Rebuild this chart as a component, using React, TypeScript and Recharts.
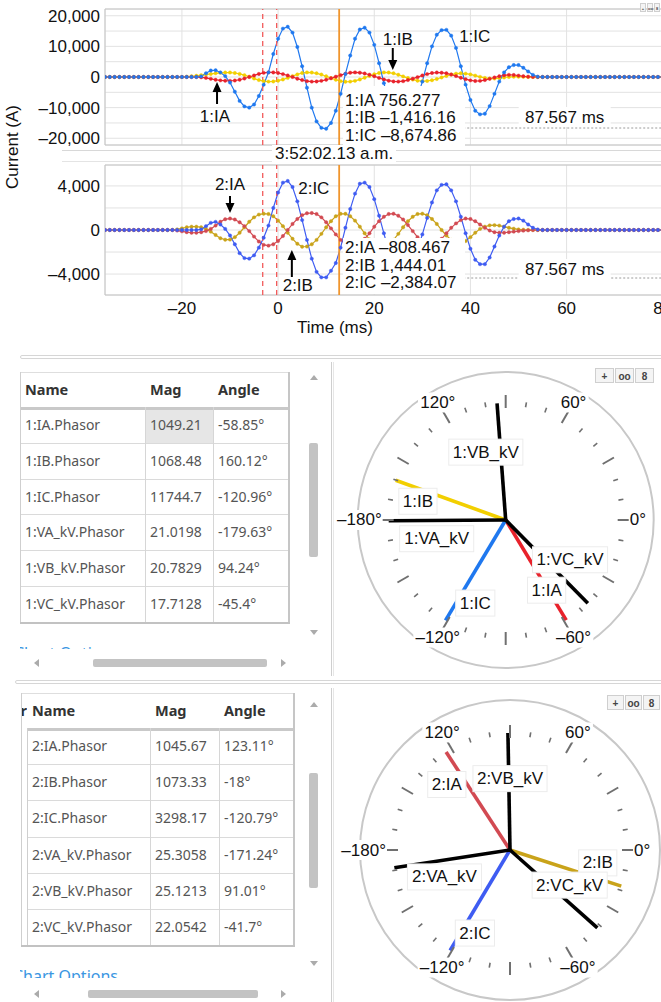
import React from "react";
import {
  LineChart,
  Line,
  XAxis,
  YAxis,
  CartesianGrid,
  ReferenceLine,
  ReferenceDot,
  ReferenceArea,
  ComposedChart,
  Scatter,
} from "recharts";

const FONT = "'Liberation Sans', Arial, Helvetica, sans-serif";
const UI = "'Noto Sans', 'Open Sans', sans-serif";

// ---- waveform samples (ms) ----
const timeMs = [
  -36, -35, -34, -33, -32, -31, -30, -29, -28, -27, -26, -25, -24, -23, -22, -21, -20, -19, -18, -17,
  -16, -15, -14, -13, -12, -11, -10, -9, -8, -7, -6, -5, -4, -3, -2, -1, 0, 1, 2, 3, 4, 5, 6, 7, 8, 9,
  10, 11, 12, 13, 14, 15, 16, 17, 18, 19, 20, 21, 22, 23, 24, 25, 26, 27, 28, 29, 30, 31, 32, 33, 34,
  35, 36, 37, 38, 39, 40, 41, 42, 43, 44, 45, 46, 47, 48, 49, 50, 51, 52, 53, 54, 55, 56, 57, 58, 59,
  60, 61, 62, 63, 64, 65, 66, 67, 68, 69, 70, 71, 72, 73, 74, 75, 76, 77, 78, 79, 80, 81, 82, 83, 84,
];

// relay 1 currents (A)
const ia1 = [
  0, 0, 0, 0, 0, 0, 0, 0, 0, 0, 0, 0, 0, 0, 0, 0, 0, 0, 0, 0,
  -100, -300, -600, -900, -1100, -1200, -1250, -1150, -900, -500, 0, 500, 1000, 1350, 1500, 1480,
  1300, 950, 500, 0, -550, -1000, -1350, -1500, -1450, -1250, -900, -400, 100, 600, 1050, 1400,
  1500, 1400, 1150, 750, 250, -300, -800, -1200, -1450, -1500, -1350, -1000, -550, -50, 500, 950,
  1300, 1450, 1400, 1200, 800, 300, -250, -700, -1100, -1300, -1250, -1000, -600, -150, 250, 550,
  700, 650, 450, 250, 100, 30,
  0, 0, 0, 0, 0, 0, 0, 0, 0, 0, 0, 0, 0, 0, 0, 0, 0, 0, 0, 0, 0, 0, 0, 0, 0, 0, 0, 0, 0, 0, 0,
];
const ib1 = [
  0, 0, 0, 0, 0, 0, 0, 0, 0, 0, 0, 0, 0, 0, 0, 0, 0,
  100, 250, 400, 600, 800, 1000, 1200, 1350, 1450, 1450, 1300, 1000, 600, 100, -500, -1000, -1350,
  -1500, -1450, -1200, -800, -300, 300, 850, 1300, 1500, 1450, 1200, 800, 250, -350, -900, -1350,
  -1550, -1500, -1250, -800, -250, 350, 900, 1300, 1500, 1450, 1200, 750, 200, -350, -850, -1200,
  -1350, -1300, -1050, -650, -150, 350, 800, 1100, 1200, 1100, 850, 450, 50, -300, -500, -500, -350,
  -150, 0, 100, 100, 50, 0,
  0, 0, 0, 0, 0, 0, 0, 0, 0, 0, 0, 0, 0, 0, 0, 0, 0, 0, 0, 0, 0, 0, 0, 0, 0, 0, 0, 0, 0, 0, 0, 0,
];
const ic1 = [
  0, 0, 0, 0, 0, 0, 0, 0, 0, 0, 0, 0, 0, 0, 0, 0, 0, 0, 0, 0,
  200, 1200, 2100, 2200, 1500, 300, -1800, -4800, -7800, -9600, -10000, -9000, -6200, -2500, 1500,
  7500, 12500, 15800, 16400, 14500, 9800, 3500, -3500, -10000, -14500, -16600, -16900, -15000,
  -11000, -5500, 1000, 7000, 12500, 15500, 16100, 14500, 10500, 4500, -2000, -8000, -12500, -15000,
  -15500, -14500, -11500, -6500, -1500, 4500, 10000, 13800, 15300, 15400, 13500, 9500, 3500, -2500,
  -7500, -11000, -12200, -12000, -9500, -5500, -1500, 1500, 3200, 3900, 3900, 3000, 1800, 700, 100,
  0, 0, 0, 0, 0, 0, 0, 0, 0, 0, 0, 0, 0, 0, 0, 0, 0, 0, 0, 0, 0, 0, 0, 0, 0, 0, 0, 0, 0, 0,
];

// relay 2 currents (A)
const ia2 = [
  0, 0, 0, 0, 0, 0, 0, 0, 0, 0, 0, 0, 0, 0, 0,
  -50, -120, -200, -250, -250, -200, -100, 100, 400, 750, 980, 1040, 950, 700, 350, -100, -600, -1050,
  -1350, -1420, -1300, -1000, -550, 0, 550, 1000, 1350, 1520, 1540, 1450, 1150, 700, 150, -400, -900,
  -1300, -1500, -1450, -1200, -800, -300, 300, 800, 1200, 1450, 1480, 1300, 950, 450, -100, -650,
  -1100, -1380, -1400, -1200, -800, -300, 200, 600, 900, 1040, 1000, 800, 500, 200, -50, -200, -250,
  -250, -200, -150, -100, -60, -30, -10,
  0, 0, 0, 0, 0, 0, 0, 0, 0, 0, 0, 0, 0, 0, 0, 0, 0, 0, 0, 0, 0, 0, 0, 0, 0, 0, 0, 0, 0, 0, 0,
];
const ib2 = [
  0, 0, 0, 0, 0, 0, 0, 0, 0, 0, 0, 0, 0, 0, 0,
  60, 150, 250, 300, 300, 250, 100, -150, -450, -750, -880, -870, -650, -250, 250, 750, 1150, 1400,
  1480, 1450, 1250, 850, 350, -250, -800, -1250, -1520, -1500, -1300, -900, -350, 250, 800, 1250,
  1470, 1470, 1250, 850, 300, -300, -850, -1250, -1480, -1500, -1300, -900, -350, 250, 800, 1200,
  1450, 1480, 1350, 1000, 550, 0, -500, -900, -1150, -1200, -1000, -650, -250, 100, 300, 420, 440,
  400, 300, 200, 120, 60, 30, 10,
  0, 0, 0, 0, 0, 0, 0, 0, 0, 0, 0, 0, 0, 0, 0, 0, 0, 0, 0, 0, 0, 0, 0, 0, 0, 0, 0, 0, 0, 0, 0, 0,
];
const ic2 = [
  0, 0, 0, 0, 0, 0, 0, 0, 0, 0, 0, 0, 0, 0, 0, 0, 0, 0, 0, 0,
  60, 350, 650, 740, 500, 100, -500, -1300, -2100, -2550, -2600, -2300, -1600, -700, 400, 2000, 3400,
  4300, 4450, 3900, 2600, 900, -900, -2600, -3800, -4300, -4300, -3700, -3000, -1600, 200, 1900,
  3300, 4200, 4300, 3900, 2800, 1300, -300, -1900, -3200, -4000, -4200, -3900, -3000, -1800, -400,
  1100, 2500, 3600, 4100, 4150, 3600, 2600, 1200, -300, -1700, -2700, -3100, -3100, -2500, -1500,
  -500, 300, 800, 1000, 1040, 850, 500, 200, 50,
  0, 0, 0, 0, 0, 0, 0, 0, 0, 0, 0, 0, 0, 0, 0, 0, 0, 0, 0, 0, 0, 0, 0, 0, 0, 0, 0, 0, 0, 0,
];

const xTicks = [-20, 0, 20, 40, 60, 80];
const yTicks1 = [-20000, -15000, -10000, -5000, 0, 5000, 10000, 15000, 20000];
const yTicks2 = [-4000, -2000, 0, 2000, 4000];
const cursor1 = ["1:IA 756.277", "1:IB –1,416.16", "1:IC –8,674.86"];
const cursor2 = ["2:IA –808.467", "2:IB 1,444.01", "2:IC –2,384.07"];
const cursorTime = 12.7;
const markers = [-3.2, -0.3];
const deltaText = "87.567 ms";
const stampText = "3:52:02.13 a.m.";

// ---- phasor tables ----
const names1 = ["1:IA.Phasor", "1:IB.Phasor", "1:IC.Phasor", "1:VA_kV.Phasor", "1:VB_kV.Phasor", "1:VC_kV.Phasor"];
const mags1 = [1049.21, 1068.48, 11744.7, 21.0198, 20.7829, 17.7128];
const angles1 = [-58.85, 160.12, -120.96, -179.63, 94.24, -45.4];
const names2 = ["2:IA.Phasor", "2:IB.Phasor", "2:IC.Phasor", "2:VA_kV.Phasor", "2:VB_kV.Phasor", "2:VC_kV.Phasor"];
const mags2 = [1045.67, 1073.33, 3298.17, 25.3058, 25.1213, 22.0542];
const angles2 = [123.11, -18, -120.79, -171.24, 91.01, -41.7];

const tickAngles = [0, 10, 20, 30, 40, 50, 60, 70, 80, 90, 100, 110, 120, 130, 140, 150, 160, 170, 180, 190, 200, 210, 220, 230, 240, 250, 260, 270, 280, 290, 300, 310, 320, 330, 340, 350];
const dialAngles = [0, 60, 120, 180, -120, -60];
const dialText = ["0°", "60°", "120°", "–180°", "–120°", "–60°"];

const colors1 = ["#e8222b", "#f2cf00", "#1f78ef", "#000", "#000", "#000"];
const colors2 = ["#d24a52", "#c9a31a", "#3e5cf2", "#000", "#000", "#000"];
// label anchor points of the dial tags, in dial units (layout only)
const tagPos1 = [[0.35, -0.6], [-0.75, 0.16], [-0.26, -0.71], [-0.59, -0.16], [-0.17, 0.58], [0.55, -0.34]];
const tagPos2 = [[-0.54, 0.56], [0.75, -0.11], [-0.3, -0.71], [-0.56, -0.23], [0, 0.61], [0.51, -0.3]];

const rows = timeMs.map((t, i) => ({
  t,
  ia1: ia1[i],
  ib1: ib1[i],
  ic1: ic1[i],
  ia2: ia2[i],
  ib2: ib2[i],
  ic2: ic2[i],
}));

const signed = (v: number) => (v < 0 ? "–" : "") + Math.abs(v).toLocaleString("en-US");
const rad = (a: number) => (a * Math.PI) / 180;

const txt = (s: string, anchor = "middle") => (p: any) => (
  <text x={p.cx} y={p.cy} textAnchor={anchor} dominantBaseline="central" fontSize={17} fontFamily={FONT} fill="#111">
    {s}
  </text>
);

const arrow = (dir: "up" | "down", len: number) => (p: any) => {
  const s = dir === "down" ? -1 : 1;
  return (
    <g>
      <line x1={p.cx} y1={p.cy + s * len} x2={p.cx} y2={p.cy + s * 8} stroke="#000" strokeWidth={2} />
      <path d={`M${p.cx - 4.5},${p.cy + s * 10} L${p.cx + 4.5},${p.cy + s * 10} L${p.cx},${p.cy} Z`} fill="#000" />
    </g>
  );
};

const cursorBox = (lines: string[], first: number, h: number) => (p: any) => (
  <g>
    <rect x={p.cx} y={p.cy} width={122} height={h} fill="#fff" />
    {lines.map((s, i) => (
      <text key={s} x={p.cx + 2} y={p.cy + first + i * 17.5} dominantBaseline="central" fontSize={17} fontFamily={FONT} fill="#111">
        {s}
      </text>
    ))}
  </g>
);

const msTag = (s: string) => (p: any) => (
  <g>
    <rect x={p.cx - 46} y={p.cy - 10} width={92} height={20} fill="#fff" />
    <text x={p.cx} y={p.cy} textAnchor="middle" dominantBaseline="central" fontSize={17} fontFamily={FONT} fill="#111">
      {s}
    </text>
  </g>
);

const dot = (c: string) => ({ r: 1.7, fill: c, stroke: c, strokeWidth: 0.4 });

function Icons({ left, top, w, h }: any) {
  const box = (k: number, ch: string) => (
    <div
      key={k}
      style={{
        position: "absolute",
        left: k * (w + 1),
        top: 0,
        width: w,
        height: h,
        border: "1px solid #cfcfcf",
        background: "#f4f4f4",
        fontSize: h - 5,
        lineHeight: `${h}px`,
        textAlign: "center",
        color: "#444",
        fontFamily: FONT,
        boxSizing: "border-box",
        fontWeight: 700,
      }}
    >
      {ch}
    </div>
  );
  return (
    <div style={{ position: "absolute", left, top }}>
      {box(0, "+")}
      {box(1, "oo")}
      {box(2, "8")}
    </div>
  );
}

function tagWidth(s: string) {
  const w: Record<string, number> = { ":": 4.7, I: 4.7, _: 9.5, k: 8.5, A: 11.3, B: 11.3, V: 11.3, C: 12.3 };
  return s.split("").reduce((acc, ch) => acc + (w[ch] ?? 9.5), 0);
}

const ringShape = (r: number) => (p: any) => <circle cx={p.cx} cy={p.cy} r={r} fill="none" stroke="#c8c8c8" strokeWidth={2} />;

const tickShape = (p: any) => {
  const a = rad(p.payload.a);
  const major = p.payload.a % 30 === 0;
  const i = major ? 5 : 2.5;
  const o = major ? 8 : 2.5;
  const c = Math.cos(a);
  const s = Math.sin(a);
  return (
    <line
      x1={p.cx - c * i}
      y1={p.cy + s * i}
      x2={p.cx + c * o}
      y2={p.cy - s * o}
      stroke="#707070"
      strokeWidth={major ? 2 : 1.6}
    />
  );
};

const angleShape = (p: any) => {
  const c = Math.cos(rad(p.payload.a));
  const anchor = c > 0.9 ? "start" : c < -0.9 ? "end" : "middle";
  const w = p.payload.text.length * 9.4;
  const x0 = anchor === "start" ? p.cx : anchor === "end" ? p.cx - w : p.cx - w / 2;
  return (
    <g>
      <rect x={x0 - 1} y={p.cy - 10} width={w + 2} height={20} fill="#fff" />
      <text x={p.cx} y={p.cy} textAnchor={anchor} dominantBaseline="central" fontSize={17} fontFamily={FONT} fill="#111">
        {p.payload.text}
      </text>
    </g>
  );
};

const tagShape = (p: any) => {
  const w = tagWidth(p.payload.text);
  return (
    <g>
      <rect x={p.cx - w / 2 - 4} y={p.cy - 13} width={w + 8} height={26} fill="#fff" stroke="#ececec" />
      <text x={p.cx} y={p.cy} textAnchor="middle" dominantBaseline="central" fontSize={17} fontFamily={FONT} fill="#111">
        {p.payload.text}
      </text>
    </g>
  );
};

function Dial({ angles, names, colors, tags, outerR, ml, mt }: any) {
  const D = 1.5;
  const ticks = tickAngles.map((a) => ({ x: Math.cos(rad(a)), y: Math.sin(rad(a)), a }));
  const angleText = dialAngles.map((a, i) => {
    const c = Math.cos(rad(a));
    const r = Math.abs(c) > 0.9 ? 1.06 : 1.16;
    return { x: r * Math.cos(rad(a)), y: r * Math.sin(rad(a)), a, text: dialText[i] };
  });
  const tagPts = names.map((n: string, i: number) => ({ x: tags[i][0], y: tags[i][1], text: n.replace(".Phasor", "") }));
  return (
    <ComposedChart width={ml + 351 + 5} height={mt + 351 + 5} margin={{ top: mt, left: ml, right: 5, bottom: 5 }}>
      <XAxis type="number" dataKey="x" domain={[-D, D]} hide allowDataOverflow />
      <YAxis type="number" dataKey="y" domain={[-D, D]} hide allowDataOverflow />
      <Scatter data={[{ x: 0, y: 0 }]} shape={ringShape(outerR)} isAnimationActive={false} />
      <Scatter data={ticks} shape={tickShape} isAnimationActive={false} />
      {angles.map((a: number, i: number) => (
        <Line
          key={names[i]}
          data={[
            { x: 0, y: 0 },
            { x: Math.cos(rad(a)), y: Math.sin(rad(a)) },
          ]}
          dataKey="y"
          stroke={colors[i]}
          strokeWidth={3.6}
          dot={false}
          activeDot={false}
          isAnimationActive={false}
        />
      ))}
      <Scatter data={angleText} shape={angleShape} isAnimationActive={false} />
      <Scatter data={tagPts} shape={tagShape} isAnimationActive={false} />
    </ComposedChart>
  );
}

const abs = (s: React.CSSProperties): React.CSSProperties => ({ position: "absolute", ...s });

function PhasorTable({ edges, top, headH, rowH, names, mags, angles, selected, lead }: any) {
  const left = edges[0];
  const right = edges[3];
  const bottom = top + headH + rowH * names.length;
  const out: React.ReactNode[] = [];
  const heads = ["Name", "Mag", "Angle"];
  heads.forEach((h, c) =>
    out.push(
      <div key={"h" + c} style={abs({ left: edges[c] + 5, top, height: headH, lineHeight: `${headH}px`, fontWeight: 700, fontSize: 14.5, color: "#333" })}>
        {h}
      </div>
    )
  );
  names.forEach((n: string, r: number) => {
    const y = top + headH + r * rowH;
    const cells = [n, String(mags[r]), `${angles[r]}°`];
    if (selected && r === 0)
      out.push(<div key="sel" style={abs({ left: edges[1], top: y, width: edges[2] - edges[1], height: rowH, background: "#e6e6e6" })} />);
    cells.forEach((s, c) =>
      out.push(
        <div key={`c${r}-${c}`} style={abs({ left: edges[c] + 5, top: y, height: rowH, lineHeight: `${rowH}px`, fontSize: 14, color: "#555", whiteSpace: "nowrap" })}>
          {s}
        </div>
      )
    );
    out.push(<div key={"rl" + r} style={abs({ left, top: y, width: right - left, height: 0, borderTop: r === 0 ? "3px solid #c9c9c9" : "1px solid #dadada" })} />);
  });
  [1, 2].forEach((c) =>
    out.push(<div key={"v" + c} style={abs({ left: edges[c], top: top + headH, width: 0, height: bottom - top - headH, borderLeft: "1px solid #d6d6d6" })} />)
  );
  out.push(<div key="top" style={abs({ left: lead ? lead.left : left, top, width: right - (lead ? lead.left : left), height: 0, borderTop: "1px solid #dedede" })} />);
  out.push(<div key="right" style={abs({ left: right, top, width: 0, height: bottom - top, borderLeft: "2px solid #c6c6c6" })} />);
  out.push(<div key="bottom" style={abs({ left: lead ? lead.left : left, top: bottom, width: right - (lead ? lead.left : left) + 2, height: 0, borderTop: "2px solid #c2c2c2" })} />);
  out.push(<div key="left" style={abs({ left, top: lead ? top + headH : top, width: 0, height: bottom - (lead ? top + headH : top), borderLeft: "1px solid #cfcfcf" })} />);
  if (lead) {
    out.push(<div key="leadl" style={abs({ left: lead.left, top, width: 0, height: bottom - top, borderLeft: "1px solid #cfcfcf" })} />);
    out.push(
      <div key="leadh" style={abs({ left: lead.left + 1, top, width: left - lead.left - 1, height: headH, lineHeight: `${headH}px`, overflow: "hidden", fontWeight: 700, fontSize: 14.5, color: "#333", direction: "rtl" })}>
        Color
      </div>
    );
  }
  return <>{out}</>;
}

function Scrolls({ vx, vUp, vDown, vTop, vH, hy, hLeft, hW }: any) {
  const tri = (x: number, y: number, d: string) => {
    const base: React.CSSProperties = { position: "absolute", width: 0, height: 0 };
    if (d === "up") return { ...base, left: x - 4, top: y - 3, borderLeft: "4px solid transparent", borderRight: "4px solid transparent", borderBottom: "5px solid #ababab" };
    if (d === "down") return { ...base, left: x - 4, top: y - 2, borderLeft: "4px solid transparent", borderRight: "4px solid transparent", borderTop: "5px solid #ababab" };
    if (d === "left") return { ...base, left: x - 3, top: y - 4, borderTop: "4px solid transparent", borderBottom: "4px solid transparent", borderRight: "5px solid #ababab" };
    return { ...base, left: x - 2, top: y - 4, borderTop: "4px solid transparent", borderBottom: "4px solid transparent", borderLeft: "5px solid #ababab" };
  };
  return (
    <>
      <div style={tri(vx + 5, vUp, "up")} />
      <div style={tri(vx + 5, vDown, "down")} />
      <div style={abs({ left: vx, top: vTop, width: 9, height: vH, background: "#c3c3c3", borderRadius: 2 })} />
      <div style={tri(37, hy + 4, "left")} />
      <div style={tri(283, hy + 4, "right")} />
      <div style={abs({ left: hLeft, top: hy, width: hW, height: 8, background: "#c3c3c3", borderRadius: 2 })} />
    </>
  );
}

export default function App() {
  const yLabel = (step: number) => (v: number) => (v % step === 0 ? signed(v) : "");
  const tickStyle = { fontSize: 17, fill: "#111", fontFamily: FONT };
  return (
    <div style={{ position: "absolute", left: 0, top: 0, width: 661, height: 1002, overflow: "hidden", background: "#fff", fontFamily: UI }}>
      {/* ---- relay 1 waveform ---- */}
      <div style={abs({ left: 0, top: 0 })}>
        <LineChart width={700} height={150} data={rows} margin={{ top: 9, right: 18, bottom: 5, left: 0 }}>
          <CartesianGrid stroke="#e2e2e2" />
          <XAxis type="number" dataKey="t" domain={[-36, 84]} ticks={xTicks} interval={0} hide allowDataOverflow />
          <YAxis
            type="number"
            domain={[-22200, 22200]}
            ticks={yTicks1}
            interval={0}
            width={105}
            tickSize={0}
            tickMargin={5}
            axisLine={false}
            tickLine={false}
            tick={tickStyle}
            tickFormatter={yLabel(10000)}
            allowDataOverflow
          />
          <ReferenceArea x1={-36} x2={84} y1={-22200} y2={22200} fill="none" stroke="#c4c4c4" />
          <Line dataKey="ib1" stroke={colors1[1]} strokeWidth={1.2} dot={dot(colors1[1])} activeDot={false} isAnimationActive={false} />
          <Line dataKey="ia1" stroke={colors1[0]} strokeWidth={1.2} dot={dot(colors1[0])} activeDot={false} isAnimationActive={false} />
          <Line dataKey="ic1" stroke={colors1[2]} strokeWidth={1.2} dot={dot(colors1[2])} activeDot={false} isAnimationActive={false} />
          {markers.map((m) => (
            <ReferenceLine key={m} x={m} stroke="#f25a5a" strokeWidth={1.3} strokeDasharray="5 4" />
          ))}
          <ReferenceLine x={cursorTime} stroke="#f0952d" strokeWidth={1.8} />
          <ReferenceLine segment={[{ x: 38.5, y: -16650 }, { x: 84, y: -16650 }]} stroke="#9a9a9a" strokeDasharray="2 2" />
          <ReferenceDot x={13.5} y={-2940} r={0} shape={cursorBox(cursor1, 14, 60)} zIndex={2000} />
          <ReferenceDot x={59.6} y={-13060} r={0} shape={msTag(deltaText)} zIndex={2000} />
          <ReferenceDot x={24.9} y={12400} r={0} shape={txt("1:IB")} zIndex={2000} />
          <ReferenceDot x={23.85} y={2280} r={0} shape={arrow("down", 22)} zIndex={2000} />
          <ReferenceDot x={40.9} y={13380} r={0} shape={txt("1:IC")} zIndex={2000} />
          <ReferenceDot x={-13.15} y={-12740} r={0} shape={txt("1:IA")} zIndex={2000} />
          <ReferenceDot x={-12.7} y={-1630} r={0} shape={arrow("up", 22)} zIndex={2000} />
        </LineChart>
      </div>
      <Icons left={640} top={3} w={6} h={9} />

      {/* time stamp band */}
      <div style={abs({ left: 62, top: 150, width: 620, height: 10, borderTop: "1px solid #d8d8d8", borderBottom: "1px solid #e4e4e4" })} />
      <div style={abs({ left: 272, top: 145, padding: "0 3px", background: "#fff", fontFamily: FONT, fontSize: 17, lineHeight: "17px", color: "#111", whiteSpace: "nowrap" })}>
        {stampText}
      </div>

      {/* ---- relay 2 waveform ---- */}
      <div style={abs({ left: 0, top: 156 })}>
        <LineChart width={700} height={169} data={rows} margin={{ top: 9, right: 18, bottom: 0, left: 0 }}>
          <CartesianGrid stroke="#e2e2e2" />
          <XAxis
            type="number"
            dataKey="t"
            domain={[-36, 84]}
            ticks={xTicks}
            interval={0}
            height={30}
            tickSize={0}
            tickMargin={7}
            axisLine={false}
            tickLine={false}
            tick={tickStyle}
            tickFormatter={(v: number) => signed(v)}
            allowDataOverflow
          />
          <YAxis
            type="number"
            domain={[-5900, 5900]}
            ticks={yTicks2}
            interval={0}
            width={105}
            tickSize={0}
            tickMargin={5}
            axisLine={false}
            tickLine={false}
            tick={tickStyle}
            tickFormatter={yLabel(4000)}
            allowDataOverflow
          />
          <ReferenceArea x1={-36} x2={84} y1={-5900} y2={5900} fill="none" stroke="#c4c4c4" />
          <Line dataKey="ib2" stroke={colors2[1]} strokeWidth={1.2} dot={dot(colors2[1])} activeDot={false} isAnimationActive={false} />
          <Line dataKey="ia2" stroke={colors2[0]} strokeWidth={1.2} dot={dot(colors2[0])} activeDot={false} isAnimationActive={false} />
          <Line dataKey="ic2" stroke={colors2[2]} strokeWidth={1.2} dot={dot(colors2[2])} activeDot={false} isAnimationActive={false} />
          {markers.map((m) => (
            <ReferenceLine key={m} x={m} stroke="#f25a5a" strokeWidth={1.3} strokeDasharray="5 4" />
          ))}
          <ReferenceLine x={cursorTime} stroke="#f0952d" strokeWidth={1.8} />
          <ReferenceLine segment={[{ x: 38.5, y: -4357 }, { x: 84, y: -4357 }]} stroke="#9a9a9a" strokeDasharray="2 2" />
          <ReferenceDot x={13.5} y={-726} r={0} shape={cursorBox(cursor2, 10, 56)} zIndex={2000} />
          <ReferenceDot x={59.6} y={-3540} r={0} shape={msTag(deltaText)} zIndex={2000} />
          <ReferenceDot x={-10} y={4175} r={0} shape={txt("2:IA")} zIndex={2000} />
          <ReferenceDot x={-10} y={1543} r={0} shape={arrow("down", 17)} zIndex={2000} />
          <ReferenceDot x={7.43} y={3812} r={0} shape={txt("2:IC")} zIndex={2000} />
          <ReferenceDot x={4.1} y={-5083} r={0} shape={txt("2:IB")} zIndex={2000} />
          <ReferenceDot x={2.86} y={-1815} r={0} shape={arrow("up", 27)} zIndex={2000} />
        </LineChart>
      </div>

      <div
        style={abs({ left: 13, top: 147, transform: "translate(-50%, -50%) rotate(-90deg)", fontFamily: FONT, fontSize: 17, color: "#111", whiteSpace: "nowrap" })}
      >
        Current (A)
      </div>
      <div style={abs({ left: 335, top: 328, transform: "translate(-50%, -50%)", fontFamily: FONT, fontSize: 17, color: "#111", whiteSpace: "nowrap" })}>
        Time (ms)
      </div>

      {/* ---- panel 1 ---- */}
      <div style={abs({ left: 20, top: 355, width: 650, height: 2, border: "1px solid #d6d6d6", borderRadius: 2 })} />
      <PhasorTable edges={[20, 145, 213, 288]} top={372} headH={35} rowH={35.8} names={names1} mags={mags1} angles={angles1} selected />
      <Scrolls vx={309} vUp={378} vDown={632} vTop={443} vH={114} hy={659} hLeft={93} hW={174} />
      <div style={abs({ left: 20, top: 644, width: 140, height: 5, overflow: "hidden" })}>
        <div style={{ position: "absolute", left: -6, top: 1, fontSize: 16, lineHeight: "16px", color: "#3a96e2", whiteSpace: "nowrap" }}>Chart Options</div>
      </div>
      <div style={abs({ left: 331, top: 362, width: 1, height: 314, borderLeft: "1px solid #cfcfcf", borderRight: "1px solid #e6e6e6" })} />
      <div style={abs({ left: 325, top: 340 })}>
        <Dial angles={angles1} names={names1} colors={colors1} tags={tagPos1} outerR={148} ml={5.2} mt={4.5} />
      </div>
      <Icons left={595} top={368} w={19} h={15} />

      {/* ---- panel 2 ---- */}
      <div style={abs({ left: 15, top: 680, width: 655, height: 2, border: "1px solid #d6d6d6", borderRadius: 2 })} />
      <PhasorTable edges={[27, 150, 219, 293]} top={693} headH={35} rowH={36.2} names={names2} mags={mags2} angles={angles2} lead={{ left: 21 }} />
      <Scrolls vx={309} vUp={705} vDown={963} vTop={773} vH={115} hy={990} hLeft={88} hW={170} />
      <div style={abs({ left: 20, top: 968, width: 140, height: 10, overflow: "hidden" })}>
        <div style={{ position: "absolute", left: -7, top: 0, fontSize: 16, lineHeight: "16px", color: "#3a96e2", whiteSpace: "nowrap" }}>Chart Options</div>
      </div>
      <div style={abs({ left: 331, top: 688, width: 1, height: 314, borderLeft: "1px solid #cfcfcf", borderRight: "1px solid #e6e6e6" })} />
      <div style={abs({ left: 325, top: 670 })}>
        <Dial angles={angles2} names={names2} colors={colors2} tags={tagPos2} outerR={150} ml={9.5} mt={4.5} />
      </div>
      <Icons left={607} top={695} w={17} h={15} />
    </div>
  );
}
